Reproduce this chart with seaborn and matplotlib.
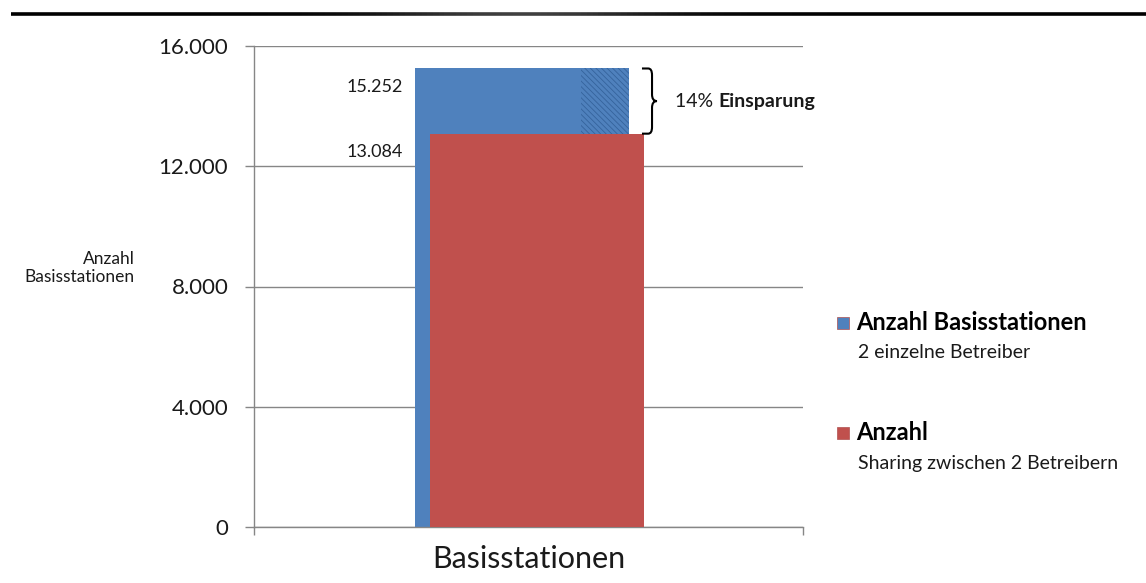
import matplotlib
matplotlib.use("Agg")
import matplotlib.pyplot as plt
from matplotlib.path import Path
from matplotlib.patches import PathPatch, Rectangle
from matplotlib.collections import LineCollection
import numpy as np
import pandas as pd
import seaborn as sns

# ---- data -------------------------------------------------------------
categories = ["Basisstationen"]
series = ["Anzahl Basisstationen", "Anzahl"]
subtitles = ["2 einzelne Betreiber", "Sharing zwischen 2 Betreibern"]
values = [15252, 13084]
y_ticks = [0, 4000, 8000, 12000, 16000]

# ---- style ------------------------------------------------------------
sns.set_theme(style="white")
plt.rcParams["font.family"] = ["Lato", "DejaVu Sans"]
plt.rcParams["hatch.linewidth"] = 0.6

W, H = 1146, 583
fig = plt.figure(figsize=(W / 100, H / 100), dpi=100)
ax = fig.add_axes([254 / W, 1 - 527 / H, (803 - 254) / W, (527 - 46) / H])

colors = ["#4F81BD", "#C0504D"]
grey = "#868686"
ink = "#1a1a1a"
offsets = [-0.012, 0.015]
bar_width = 0.39


def de_num(v):
    return f"{v:,}".replace(",", ".")


# ---- bars -------------------------------------------------------------
for i, (name, val) in enumerate(zip(series, values)):
    df = pd.DataFrame({"Kategorie": categories, "Wert": [val]})
    sns.barplot(data=df, x="Kategorie", y="Wert", color=colors[i],
                width=bar_width, saturation=1, errorbar=None,
                linewidth=0, ax=ax, zorder=2 + i)
    bar = ax.patches[-1]
    bar.set_x(bar.get_x() + offsets[i])

# hatched "savings" strip on the right edge of the first bar
blue_right = offsets[0] + bar_width / 2
strip_w = 0.0875
ax.add_patch(Rectangle((blue_right - strip_w, values[1]), strip_w,
                       values[0] - values[1], facecolor=colors[0],
                       edgecolor="#35639c", hatch="\\\\\\\\\\\\",
                       linewidth=0, zorder=2.5))

# value labels left of the bars
for val in values:
    ax.annotate(de_num(val), xy=(-0.229, val), xytext=(0, -13),
                textcoords="offset points", ha="right", va="center",
                fontsize=13, color=ink)

# curly brace spanning the difference
top, bot = values[0], values[1]
mid = (top + bot) / 2
xb0, xv, xt = 0.2067, 0.225, 0.234
dx, r = 0.007, 220
verts = [(xb0, top), (xv - dx, top), (xv, top), (xv, top - r),
         (xv, mid + r), (xv, mid), (xt, mid), (xv, mid), (xv, mid - r),
         (xv, bot + r), (xv, bot), (xv - dx, bot), (xb0, bot)]
codes = [Path.MOVETO, Path.LINETO, Path.CURVE3, Path.CURVE3,
         Path.LINETO, Path.CURVE3, Path.CURVE3, Path.CURVE3, Path.CURVE3,
         Path.LINETO, Path.CURVE3, Path.CURVE3, Path.LINETO]
ax.add_patch(PathPatch(Path(verts, codes), facecolor="none",
                       edgecolor="black", linewidth=1.5, clip_on=False,
                       zorder=5))

pct = round((values[0] - values[1]) / values[0] * 100)
t1 = ax.text(0.267, mid, f"{pct}% ", ha="left", va="center", fontsize=14,
             color=ink)
ax.annotate("Einsparung", xy=(1, 0), xycoords=t1, ha="left", va="bottom",
            fontsize=14, fontweight="bold", color=ink)

# ---- axes -------------------------------------------------------------
ax.set_xlim(-0.5, 0.5)
ax.set_ylim(0, 16000)
ax.set_yticks(y_ticks)
ax.set_yticklabels([de_num(v) for v in y_ticks])
ax.set_xticks([0])
ax.set_xticklabels(categories)
ax.set_xticks([-0.5, 0.5], minor=True)
ax.set_xlabel("")
ax.set_ylabel("")
ax.yaxis.grid(True, color=grey, linewidth=1)
ax.set_axisbelow(True)
for s in ["top", "right"]:
    ax.spines[s].set_visible(False)
for s in ["left", "bottom"]:
    ax.spines[s].set_color(grey)
    ax.spines[s].set_linewidth(1)
ax.tick_params(axis="y", left=True, length=6.5, width=1, color=grey,
               pad=12, labelsize=16, labelcolor=ink)
ax.tick_params(axis="x", which="major", length=0, pad=13, labelsize=22,
               labelcolor=ink)
ax.tick_params(axis="x", which="minor", bottom=True, length=6, width=1,
               color=grey)

fig.text(135 / W, 1 - 268 / H, "Anzahl\nBasisstationen", ha="right",
         va="center", multialignment="right", fontsize=12.5,
         color=ink, linespacing=1.2)

# ---- legend -----------------------------------------------------------
legend_rows = [(323, 352), (433, 463)]
for i, (y_head, y_sub) in enumerate(legend_rows):
    fig.add_artist(Rectangle((837 / W, 1 - (y_head + 6) / H), 12 / W,
                             12 / H, transform=fig.transFigure,
                             facecolor=colors[i], edgecolor="#b05050",
                             linewidth=0.5))
    fig.text(856 / W, 1 - y_head / H, series[i], ha="left", va="center",
             fontsize=17, fontweight="bold", color="black")
    fig.text(858 / W, 1 - y_sub / H, subtitles[i], ha="left", va="center",
             fontsize=14, color=ink)

# ---- rule at the top of the page --------------------------------------
xs = np.linspace(11, W, 200) / W
pts = np.array([xs, np.full_like(xs, 1 - 14 / H)]).T.reshape(-1, 1, 2)
segs = np.concatenate([pts[:-1], pts[1:]], axis=1)
xc = (xs[:-1] + xs[1:]) / 2 * W
shade = 0.25 * np.exp(-((xc - 520) / 140) ** 2)
seg_colors = [(s, s, s, 1) for s in shade]
fig.add_artist(LineCollection(segs, colors=seg_colors, linewidths=2.6,
                              transform=fig.transFigure))

fig.savefig("out.png", dpi=100)
